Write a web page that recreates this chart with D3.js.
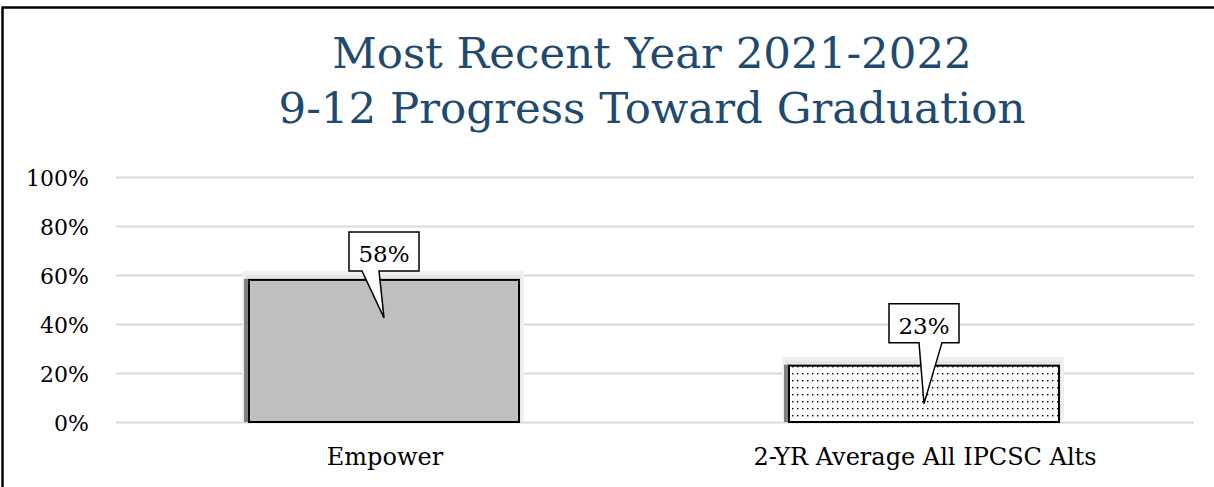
<!DOCTYPE html>
<html><head><meta charset="utf-8">
<script src="https://cdn.jsdelivr.net/npm/d3@7"></script>
<style>body{margin:0;background:#fff}svg{display:block}</style>
</head><body>
<svg id="c" width="1214" height="487"></svg>
<script>
const titleLines = ["Most Recent Year 2021-2022", "9-12 Progress Toward Graduation"];
const categories = ["Empower", "2-YR Average All IPCSC Alts"];
const values = [0.58, 0.23];
const valueLabels = ["58%", "23%"];
const yTicks = [0, 0.2, 0.4, 0.6, 0.8, 1.0];

const svg = d3.select("#c");
const serif = "'DejaVu Serif', 'Liberation Serif', serif";

// frame
svg.append("line").attr("x1", 2).attr("x2", 1214).attr("y1", 7.5).attr("y2", 7.5).attr("stroke", "#000").attr("stroke-width", 2.5);
svg.append("line").attr("x1", 2.5).attr("x2", 2.5).attr("y1", 6.5).attr("y2", 487).attr("stroke", "#000").attr("stroke-width", 2.5);

// dot pattern
const defs = svg.append("defs");
const pat = defs.append("pattern").attr("id", "dots").attr("patternUnits", "userSpaceOnUse")
  .attr("width", 10).attr("height", 14);
pat.append("rect").attr("width", 10).attr("height", 14).attr("fill", "#fff");
[[2,2],[7,2],[2,9],[7,9]].forEach(([a,b]) =>
  pat.append("rect").attr("x", a).attr("y", b).attr("width", 1.4).attr("height", 1.4).attr("fill", "#000"));

// title
svg.append("g").selectAll("text").data(titleLines).join("text")
  .attr("x", 652).attr("y", (d, i) => 68 + i * 55)
  .attr("text-anchor", "middle")
  .attr("font-family", serif).attr("font-size", 43.5)
  .attr("fill", "#1f4a70")
  .text(d => d);

const x = d3.scaleBand().domain(categories).range([114, 1194]).padding(0);
const y = d3.scaleLinear().domain([0, 1]).range([422, 177]);

// gridlines
svg.append("g").selectAll("line").data(yTicks).join("line")
  .attr("x1", 116).attr("x2", 1194)
  .attr("y1", d => Math.round(y(d)) + 0.5).attr("y2", d => Math.round(y(d)) + 0.5)
  .attr("stroke", "#d9d9d9").attr("stroke-width", 2);

// y tick labels
svg.append("g").selectAll("text").data(yTicks).join("text")
  .attr("x", 89).attr("y", d => y(d) + 9)
  .attr("text-anchor", "end")
  .attr("font-family", serif).attr("font-size", 22).attr("fill", "#000")
  .text(d => d3.format(".0%")(d));

const bw = x.bandwidth() * 0.5;
const bx = d => x(d) + (x.bandwidth() - bw) / 2;

const bars = svg.append("g");
categories.forEach((c, i) => {
  const x0 = bx(c), y0 = y(values[i]), h = y(0) - y(values[i]);
  bars.append("rect").attr("x", x0 - 7).attr("y", y0 - 9).attr("width", bw + 12).attr("height", h + 9)
    .attr("fill", "#f0f0f0");
  bars.append("rect").attr("x", x0 - 4).attr("y", y0 - 5).attr("width", bw + 6).attr("height", h + 5)
    .attr("fill", "#e6e6e6");
  bars.append("rect").attr("x", x0 - 5).attr("y", y0 - 1).attr("width", 5).attr("height", h + 1)
    .attr("fill", "#808080");
  bars.append("rect").attr("x", x0).attr("y", y0).attr("width", bw).attr("height", h)
    .attr("fill", i === 0 ? "#bfbfbf" : "url(#dots)")
    .attr("stroke", "#000").attr("stroke-width", 2);
});

// category labels
svg.append("g").selectAll("text").data(categories).join("text")
  .attr("x", d => x(d) + x.bandwidth() / 2 + 1).attr("y", 465)
  .attr("text-anchor", "middle")
  .attr("font-family", serif).attr("font-size", 24).attr("fill", "#000")
  .text(d => d);

// callouts
const callouts = svg.append("g");
categories.forEach((c, i) => {
  const cx = x(c) + x.bandwidth() / 2;
  const tipY = y(values[i]) + 38;
  const boxB = y(values[i]) - (i === 0 ? 9 : 23);
  const boxT = boxB - 39;
  const bl = cx - 35, br = cx + 35;
  const p1 = cx + (i === 0 ? -22 : -5), p2 = cx + (i === 0 ? -5 : 18);
  const path = `M${bl},${boxT} L${br},${boxT} L${br},${boxB} L${p2},${boxB} L${cx},${tipY} L${p1},${boxB} L${bl},${boxB} Z`;
  callouts.append("path").attr("d", path).attr("fill", "#fff").attr("stroke", "#000").attr("stroke-width", 1.5);
  callouts.append("text").attr("x", cx).attr("y", boxT + 30)
    .attr("text-anchor", "middle")
    .attr("font-family", serif).attr("font-size", 23).attr("fill", "#000")
    .text(valueLabels[i]);
});
</script>
</body></html>
